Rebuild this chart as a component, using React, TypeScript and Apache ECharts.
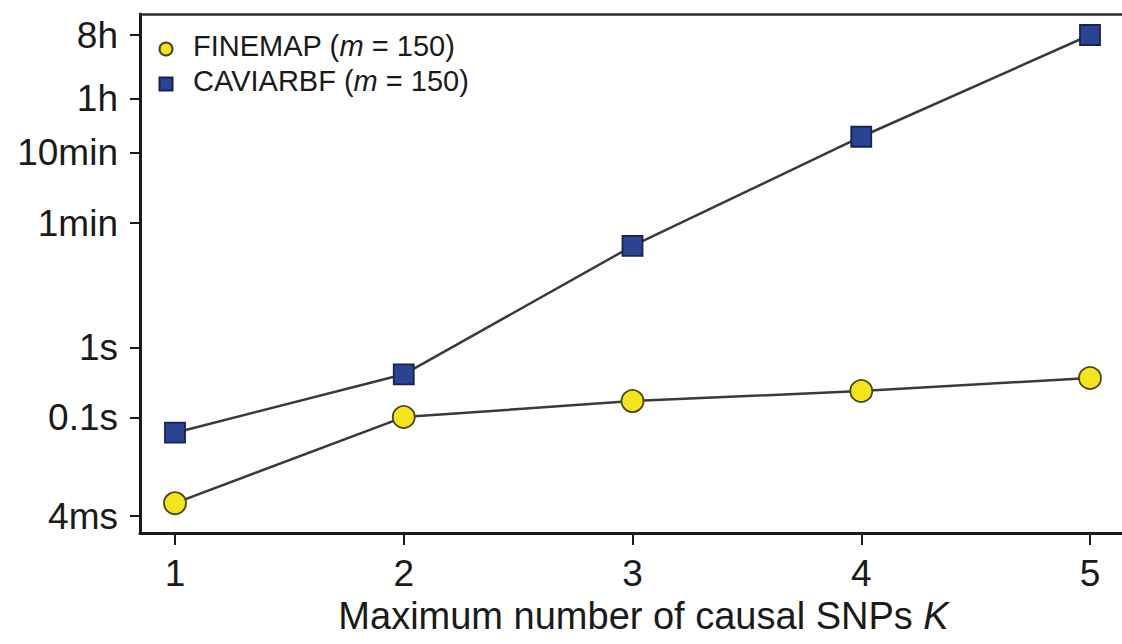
import React, { useEffect, useRef } from "react";
import * as echarts from "echarts";

const kValues = [1, 2, 3, 4, 5];
const finemapSeconds = [0.0061, 0.103, 0.174, 0.242, 0.371];
const caviarbfSeconds = [0.0616, 0.419, 28.3, 1021, 28800];
const yTickValues = [0.004, 0.1, 1, 60, 600, 3600, 28800];
const yTickLabels = ["4ms", "0.1s", "1s", "1min", "10min", "1h", "8h"];
const xTickValues = [1, 2, 3, 4, 5];

const FONT = "'Liberation Sans', Arial, Helvetica, sans-serif";

export default function App() {
  const ref = useRef<HTMLDivElement>(null);
  useEffect(() => {
    if (!ref.current) return;
    const chart = echarts.init(ref.current, undefined, { renderer: "svg" });
    const labelFor = (v: number) => {
      for (let i = 0; i < yTickValues.length; i++) {
        if (Math.abs(v - yTickValues[i]) / yTickValues[i] < 1e-6) return yTickLabels[i];
      }
      return "";
    };
    chart.setOption({
      animation: false,
      backgroundColor: "#ffffff",
      textStyle: { fontFamily: FONT },
      grid: {
        left: 140,
        top: 14,
        width: 985,
        height: 519,
        outerBoundsMode: "none",
        containLabel: false,
        show: false,
      },
      legend: {
        orient: "vertical",
        left: 153.5,
        top: 26.5,
        itemWidth: 13,
        itemHeight: 13,
        itemGap: 0,
        data: [
          { name: "FINEMAP", icon: "circle" },
          { name: "CAVIARBF", icon: "rect" },
        ],
        formatter: (name: string) => `{n|${name} (}{i|m}{n| = 150)}`,
        textStyle: {
          fontFamily: FONT,
          fontSize: 29,
          lineHeight: 29,
          color: "#1a1a1a",
          padding: [0, 0, 6, 15.5],
          rich: {
            n: { fontFamily: FONT, fontSize: 29, lineHeight: 29, color: "#1a1a1a" },
            i: { fontFamily: FONT, fontSize: 29, lineHeight: 29, color: "#1a1a1a", fontStyle: "italic" },
          },
        },
      },
      xAxis: [
        {
          type: "value",
          min: 0.847,
          max: 5.153,
          name: "{n|Maximum number of causal SNPs }{i|K}",
          nameLocation: "middle",
          nameGap: 62,
          nameTextStyle: {
            fontFamily: FONT,
            fontSize: 38,
            color: "#1a1a1a",
            padding: [0, 0, 0, 22],
            rich: {
              n: { fontFamily: FONT, fontSize: 38, color: "#1a1a1a" },
              i: { fontFamily: FONT, fontSize: 38, color: "#1a1a1a", fontStyle: "italic" },
            },
          },
          axisLine: { show: true, lineStyle: { color: "#1a1a1a", width: 3 } },
          axisTick: {
            show: true,
            inside: false,
            length: 12,
            customValues: xTickValues,
            lineStyle: { color: "#1a1a1a", width: 2 },
          },
          axisLabel: {
            customValues: xTickValues,
            margin: 22,
            fontFamily: FONT,
            fontSize: 37,
            color: "#1a1a1a",
          },
          splitLine: { show: false },
        },
        {
          type: "value",
          position: "top",
          min: 0.847,
          max: 5.153,
          axisLine: { show: true, lineStyle: { color: "#2a2a2a", width: 2.5 } },
          axisTick: { show: false },
          axisLabel: { show: false },
          splitLine: { show: false },
        },
      ],
      yAxis: {
        type: "log",
        logBase: 10,
        min: 0.00229,
        max: 57400,
        axisLine: { show: true, lineStyle: { color: "#1a1a1a", width: 3 } },
        axisTick: {
          show: true,
          inside: false,
          length: 10,
          customValues: yTickValues,
          lineStyle: { color: "#1a1a1a", width: 2 },
        },
        axisLabel: {
          customValues: yTickValues,
          margin: 22,
          fontFamily: FONT,
          fontSize: 37,
          color: "#1a1a1a",
          formatter: (v: number) => labelFor(v),
        },
        splitLine: { show: false },
        minorTick: { show: false },
      },
      series: [
        {
          name: "FINEMAP",
          type: "line",
          xAxisIndex: 0,
          data: kValues.map((k, i) => [k, finemapSeconds[i]]),
          symbol: "circle",
          symbolSize: 22,
          z: 3,
          lineStyle: { color: "#3a3a3a", width: 2.5 },
          itemStyle: { color: "#f4e41c", borderColor: "#4a4716", borderWidth: 1.8 },
        },
        {
          name: "CAVIARBF",
          type: "line",
          xAxisIndex: 0,
          data: kValues.map((k, i) => [k, caviarbfSeconds[i]]),
          symbol: "rect",
          symbolSize: 20,
          z: 3,
          lineStyle: { color: "#3a3a3a", width: 2.5 },
          itemStyle: { color: "#2a4494", borderColor: "#18234f", borderWidth: 1.8 },
        },
      ],
    });
    return () => chart.dispose();
  }, []);
  return (
    <div
      ref={ref}
      style={{ position: "fixed", left: 0, top: 0, width: 1122, height: 644, background: "#fff" }}
    />
  );
}
